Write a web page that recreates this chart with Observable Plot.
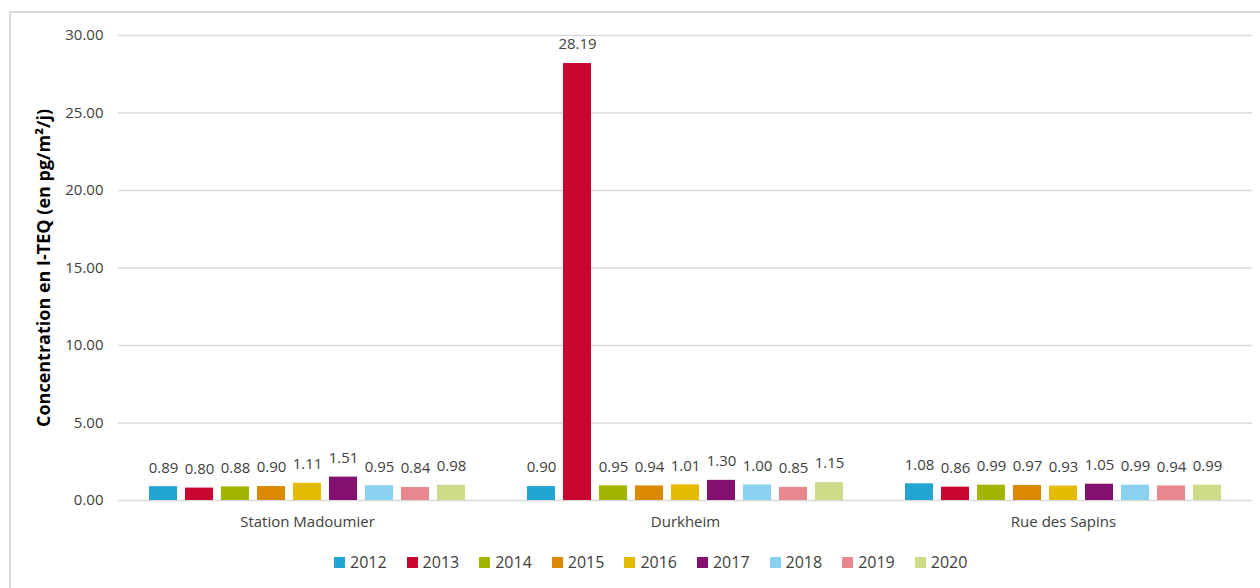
<!DOCTYPE html>
<html>
<head>
<meta charset="utf-8">
<script src="https://cdn.jsdelivr.net/npm/d3@7"></script>
<script src="https://cdn.jsdelivr.net/npm/@observablehq/plot@0.6"></script>
<style>
  html, body { margin: 0; padding: 0; background: #fff; width: 1260px; height: 588px; overflow: hidden; }
  #frame { position: absolute; left: 9px; top: 11px; width: 1300px; height: 600px; border-left: 2px solid #d9d9d9; border-top: 2px solid #d9d9d9; }
  #chart { position: absolute; left: 0; top: 0; }
  #legend { position: absolute; left: 334px; top: 553px; display: flex; font-family: "Open Sans", sans-serif; font-size: 16px; color: #404040; line-height: 18px; }
  .item { display: flex; align-items: center; margin-right: 20px; }
  .sw { width: 11px; height: 11px; margin-right: 5px; }
</style>
</head>
<body>
<div id="frame"></div>
<div id="chart"></div>
<div id="legend"></div>
<script>
const sites = ["Station Madoumier", "Durkheim", "Rue des Sapins"];
const years = ["2012", "2013", "2014", "2015", "2016", "2017", "2018", "2019", "2020"];
const madoumier = [0.89, 0.80, 0.88, 0.90, 1.11, 1.51, 0.95, 0.84, 0.98];
const durkheim  = [0.90, 28.19, 0.95, 0.94, 1.01, 1.30, 1.00, 0.85, 1.15];
const sapins    = [1.08, 0.86, 0.99, 0.97, 0.93, 1.05, 0.99, 0.94, 0.99];
const colors = ["#22a5d2", "#c8042f", "#a3b500", "#db8900", "#e5bb00", "#84116f", "#8ad0ef", "#e9878f", "#cddc89"];
const yTicks = [0, 5, 10, 15, 20, 25, 30];
const yLabel = "Concentration en I-TEQ (en pg/m²/j)";

const series = [madoumier, durkheim, sapins];
const data = [];
sites.forEach((s, i) => years.forEach((y, j) => data.push({site: s, year: y, value: series[i][j]})));

const plot = Plot.plot({
  width: 1260,
  height: 540,
  marginLeft: 118,
  marginRight: 8,
  marginTop: 35,
  marginBottom: 40,
  style: {fontFamily: "Open Sans, sans-serif", fontSize: "15px", color: "#404040", background: "transparent"},
  fx: {domain: sites, padding: 0, label: null},
  x: {domain: years, paddingInner: 0.222, paddingOuter: 0.861, axis: null},
  y: {domain: [0, 30]},
  color: {domain: years, range: colors},
  marks: [
    Plot.gridY(yTicks, {stroke: "#d9d9d9", strokeOpacity: 1, strokeWidth: 1.5}),
    Plot.axisY(yTicks, {tickFormat: d => d.toFixed(2), tickSize: 0, tickPadding: 15, label: yLabel, labelAnchor: "center", labelOffset: 81, labelArrow: "none", fill: "#404040", fontSize: 15}),
    Plot.axisFx({anchor: "bottom", tickSize: 0, tickPadding: 16, label: null, fill: "#404040", fontSize: 15}),
    Plot.barY(data, {fx: "site", x: "year", y: "value", fill: "year"}),
    Plot.text(data, {fx: "site", x: "year", y: "value", text: d => d.value.toFixed(2), dy: -19, fill: "#404040", fontSize: 15})
  ]
});
document.getElementById("chart").appendChild(plot);

// bold y-axis label
d3.select(plot).selectAll("[aria-label='y-axis label']")
  .style("font-size", "18px")
  .attr("font-size", 18);
d3.select(plot).selectAll("[aria-label='y-axis label'] text")
  .text(yLabel)
  .style("font-weight", "bold")
  .style("font-size", "18px")
  .style("fill", "#000");

const legend = d3.select("#legend");
years.forEach((y, i) => {
  const it = legend.append("div").attr("class", "item");
  it.append("div").attr("class", "sw").style("background", colors[i]);
  it.append("span").text(y);
});
</script>
</body>
</html>
